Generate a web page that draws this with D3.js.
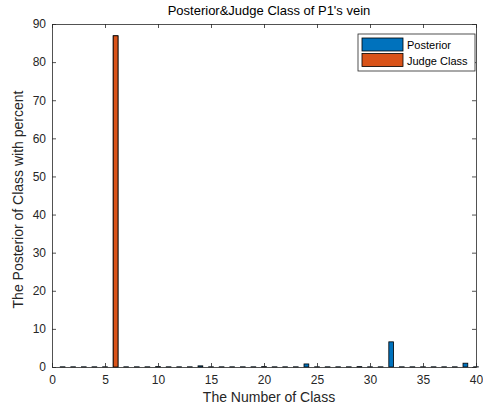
<!DOCTYPE html>
<html>
<head>
<meta charset="utf-8">
<script src="https://cdn.jsdelivr.net/npm/d3@7"></script>
<style>
  html, body { margin: 0; padding: 0; background: #fff; }
  svg { display: block; font-family: "Liberation Sans", Arial, Helvetica, sans-serif; }
</style>
</head>
<body>
<svg id="chart" width="483" height="409"></svg>
<script>
// Class numbers 1..40
const classes = [1,2,3,4,5,6,7,8,9,10,11,12,13,14,15,16,17,18,19,20,
                 21,22,23,24,25,26,27,28,29,30,31,32,33,34,35,36,37,38,39,40];
// Posterior probability (percent) for each class
const posterior = [0.05,0.05,0.05,0.05,0.05,86.9,0.05,0.05,0.05,0.1,0.05,0.05,0.05,0.3,0.05,0.05,0.05,0.05,0.05,0.1,
                   0.05,0.05,0.05,0.8,0.05,0.05,0.05,0.05,0.1,0.05,0.05,6.6,0.05,0.05,0.05,0.05,0.05,0.05,1.0,0.05];
// Judged class: only the winning class carries a value
const judge = [0,0,0,0,0,86.9,0,0,0,0,0,0,0,0,0,0,0,0,0,0,
               0,0,0,0,0,0,0,0,0,0,0,0,0,0,0,0,0,0,0,0];
const xTicks = [0,5,10,15,20,25,30,35,40];
const yTicks = [0,10,20,30,40,50,60,70,80,90];
const seriesNames = ["Posterior", "Judge Class"];
const seriesColors = ["#0072BD", "#D95319"];

const svg = d3.select("#chart");
const m = { left: 52, right: 476, top: 24, bottom: 367 };
const x = d3.scaleLinear().domain([0, 40]).range([m.left, m.right]);
const y = d3.scaleLinear().domain([0, 90]).range([m.bottom, m.top]);
const barW = 0.45;
const axisColor = "#262626";

// bars: posterior first, judge class drawn over it
[posterior, judge].forEach((vals, si) => {
  svg.append("g").selectAll("rect").data(classes).join("rect")
    .attr("x", (d) => x(d - barW / 2))
    .attr("width", (d) => x(d + barW / 2) - x(d - barW / 2))
    .attr("y", (d, i) => y(vals[i]))
    .attr("height", (d, i) => y(0) - y(vals[i]))
    .attr("fill", seriesColors[si])
    .attr("stroke", "#000")
    .attr("stroke-width", 0.8);
});

// axes with inward ticks
const tickLen = 4;
const gx = svg.append("g").attr("transform", `translate(0,${m.bottom})`)
  .call(d3.axisBottom(x).tickValues(xTicks).tickSizeInner(-tickLen).tickSizeOuter(0).tickPadding(8));
const gxTop = svg.append("g").attr("transform", `translate(0,${m.top})`)
  .call(d3.axisTop(x).tickValues(xTicks).tickSizeInner(-tickLen).tickSizeOuter(0).tickFormat(""));
const gy = svg.append("g").attr("transform", `translate(${m.left},0)`)
  .call(d3.axisLeft(y).tickValues(yTicks).tickSizeInner(-tickLen).tickSizeOuter(0).tickPadding(6));
const gyR = svg.append("g").attr("transform", `translate(${m.right},0)`)
  .call(d3.axisRight(y).tickValues(yTicks).tickSizeInner(-tickLen).tickSizeOuter(0).tickFormat(""));

[gx, gxTop, gy, gyR].forEach(g => {
  g.selectAll("path").attr("stroke", axisColor).attr("stroke-width", 0.8);
  g.selectAll("line").attr("stroke", axisColor).attr("stroke-width", 0.8);
  g.selectAll("text").attr("fill", axisColor).attr("font-size", 12)
    .attr("font-family", "Liberation Sans, Arial, sans-serif");
});

// title and axis labels
svg.append("text").attr("x", (m.left + m.right) / 2 + 5).attr("y", 15)
  .attr("text-anchor", "middle").attr("font-size", 13).attr("fill", "#000")
  .text("Posterior&Judge Class of P1's vein");
svg.append("text").attr("x", (m.left + m.right) / 2 + 5).attr("y", 402)
  .attr("text-anchor", "middle").attr("font-size", 14).attr("fill", axisColor)
  .text("The Number of Class");
svg.append("text")
  .attr("transform", `translate(23,${(m.top + m.bottom) / 2 + 4}) rotate(-90)`)
  .attr("text-anchor", "middle").attr("font-size", 14).attr("fill", axisColor)
  .text("The Posterior of Class with percent");

// legend
const lg = svg.append("g").attr("transform", "translate(358,34)");
lg.append("rect").attr("width", 117).attr("height", 37)
  .attr("fill", "#fff").attr("stroke", axisColor).attr("stroke-width", 0.8);
seriesNames.forEach((name, i) => {
  lg.append("rect").attr("x", 4).attr("y", 4 + i * 15.5).attr("width", 41).attr("height", 13)
    .attr("fill", seriesColors[i]).attr("stroke", "#000").attr("stroke-width", 0.8);
  lg.append("text").attr("x", 49).attr("y", 15 + i * 15.5)
    .attr("font-size", 11).attr("fill", "#000").text(name);
});
</script>
</body>
</html>
